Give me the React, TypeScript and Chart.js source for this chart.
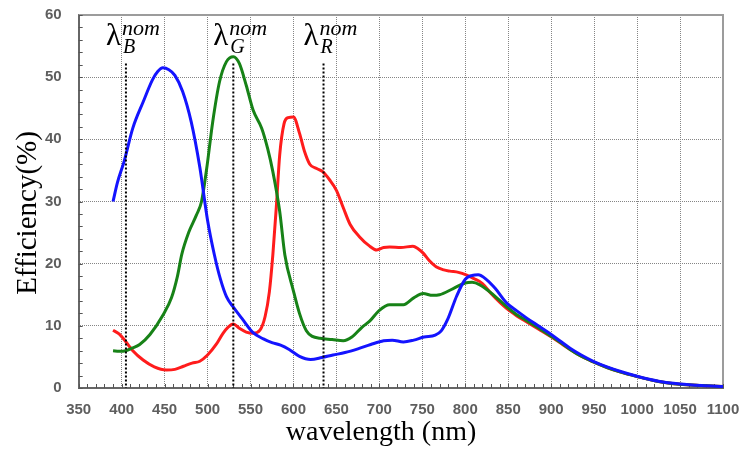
import React, { useEffect, useRef } from 'react';
import { Chart, registerables } from 'chart.js';

Chart.register(...registerables);

// ---- data ----
const blueNm = [390, 395, 403, 413, 425, 436, 442, 448, 455, 462, 471, 481, 491, 500, 508, 515, 522, 530, 540, 553, 565, 575, 585, 595, 607, 620, 633, 646, 660, 675, 690, 705, 715, 728, 740, 752, 765, 772, 780, 790, 800, 808, 815, 825, 835, 848, 860, 872, 885, 898, 910, 922, 935, 949, 965, 980, 1000, 1025, 1050, 1075, 1100];
const blueEff = [30.0, 33.0, 36.5, 41.8, 46.0, 49.6, 50.9, 51.5, 51.2, 50.3, 47.7, 42.8, 35.5, 27.0, 21.4, 17.5, 14.7, 13.0, 11.2, 8.9, 7.9, 7.3, 6.9, 6.2, 5.1, 4.6, 4.9, 5.3, 5.7, 6.3, 7.0, 7.6, 7.7, 7.4, 7.7, 8.2, 8.5, 9.2, 11.2, 14.8, 17.5, 18.1, 18.2, 17.4, 16.0, 13.7, 12.4, 11.2, 10.0, 8.8, 7.6, 6.4, 5.3, 4.3, 3.4, 2.7, 1.9, 1.1, 0.65, 0.4, 0.25];

const greenNm = [390, 397, 405, 412, 421, 433, 448, 458, 465, 470, 478, 487, 493, 499, 506, 514, 522, 530, 537, 545, 553, 563, 570, 576, 584, 590, 600, 607, 615, 622, 631, 645, 658, 668, 680, 689, 700, 712, 728, 740, 751, 762, 770, 786, 800, 808, 817, 830, 848, 860, 872, 885, 898, 910, 922, 935, 949, 965, 980, 1000, 1025, 1050, 1075, 1100];
const greenEff = [6.0, 5.9, 6.0, 6.4, 7.0, 8.6, 11.7, 14.5, 18.0, 21.5, 25.0, 27.8, 30.0, 35.3, 42.8, 49.3, 52.5, 53.3, 52.2, 48.7, 44.7, 41.8, 38.5, 34.8, 28.4, 21.4, 15.6, 12.0, 9.2, 8.3, 8.0, 7.8, 7.6, 8.2, 9.8, 10.8, 12.5, 13.4, 13.4, 14.5, 15.2, 14.9, 15.0, 16.0, 16.9, 17.0, 16.6, 15.3, 13.1, 11.8, 10.8, 9.7, 8.5, 7.4, 6.2, 5.1, 4.2, 3.3, 2.6, 1.85, 1.05, 0.6, 0.4, 0.25];

const redNm = [390, 397, 404, 413, 425, 438, 452, 462, 472, 482, 491, 500, 510, 518, 524, 530, 537, 545, 553, 561, 567, 572, 576, 580, 584, 589, 594, 600, 607, 613, 619, 627, 634, 642, 650, 658, 666, 677, 688, 697, 705, 712, 725, 739, 745, 751, 758, 766, 775, 782, 792, 801, 810, 820, 830, 848, 860, 872, 885, 898, 910, 922, 935, 949, 965, 980, 1000, 1025, 1050, 1075, 1100];
const redEff = [9.3, 8.7, 7.6, 6.0, 4.5, 3.4, 2.9, 3.0, 3.5, 4.0, 4.3, 5.3, 7.0, 8.8, 9.8, 10.3, 9.6, 9.0, 8.8, 9.3, 11.5, 15.5, 21.4, 29.0, 37.5, 42.5, 43.5, 43.6, 41.0, 38.0, 36.0, 35.3, 34.8, 33.5, 31.8, 29.0, 26.3, 24.3, 22.9, 22.2, 22.6, 22.7, 22.6, 22.8, 22.4, 21.7, 20.5, 19.5, 19.0, 18.8, 18.6, 18.2, 17.6, 16.8, 15.2, 12.8, 11.6, 10.6, 9.5, 8.4, 7.3, 6.2, 5.1, 4.2, 3.3, 2.6, 1.85, 1.05, 0.6, 0.4, 0.25];

const nominalNm = [405, 530, 635];
const nominalSub = ['B', 'G', 'R'];
const nominalTop = 52.2;

const xMin = 350;
const xMax = 1100;
const xStep = 50;
const xMinorStep = 10;
const yMin = 0;
const yMax = 60;
const yStep = 10;
const yMinorStep = 2;

const xTitle = 'wavelength (nm)';
const yTitle = 'Efficiency(%)';

const pts = (xs: number[], ys: number[]) => xs.map((x, i) => ({ x, y: ys[i] }));

const overlayPlugin = {
  id: 'overlay',
  beforeDatasetsDraw(chart: any) {
    const { ctx, chartArea: a, scales } = chart;
    const xs = scales.x;
    const ys = scales.y;
    ctx.save();
    // top/right frame
    ctx.strokeStyle = '#9c9c9c';
    ctx.lineWidth = 2;
    ctx.beginPath();
    ctx.moveTo(a.left, a.top);
    ctx.lineTo(a.right, a.top);
    ctx.lineTo(a.right, a.bottom);
    ctx.stroke();
    // minor ticks (inside)
    ctx.strokeStyle = '#555';
    ctx.lineWidth = 1;
    ctx.beginPath();
    for (let v = xMin; v <= xMax; v += xMinorStep) {
      const px = Math.round(xs.getPixelForValue(v)) + 0.5;
      ctx.moveTo(px, a.bottom);
      ctx.lineTo(px, a.bottom - 4);
    }
    for (let v = yMin; v <= yMax; v += yMinorStep) {
      const py = Math.round(ys.getPixelForValue(v)) + 0.5;
      ctx.moveTo(a.left, py);
      ctx.lineTo(a.left + 4, py);
    }
    ctx.stroke();
    ctx.restore();
  },
  afterDatasetsDraw(chart: any) {
    const { ctx, scales } = chart;
    const xs = scales.x;
    ctx.save();
    ctx.fillStyle = '#000';
    ctx.textAlign = 'left';
    ctx.textBaseline = 'alphabetic';
    nominalNm.forEach((nm, i) => {
      const L = xs.getPixelForValue(nm);
      ctx.font = '31px "Liberation Serif", serif';
      ctx.fillText('\u03BB', L - 20, 45);
      ctx.font = 'italic 22px "Liberation Serif", serif';
      ctx.fillText('nom', L - 4, 35);
      ctx.font = 'italic 20px "Liberation Serif", serif';
      ctx.fillText(nominalSub[i], L - 3, 53);
    });
    // axis titles
    ctx.font = '28px "Liberation Serif", serif';
    ctx.textAlign = 'center';
    ctx.fillText(xTitle, 381, 440);
    ctx.save();
    ctx.translate(36, 213);
    ctx.rotate(-Math.PI / 2);
    ctx.font = '29px "Liberation Serif", serif';
    ctx.fillText(yTitle, 0, 0);
    ctx.restore();
    ctx.restore();
  },
};

const tickFont = { family: '"Liberation Sans", Arial, sans-serif', size: 15, weight: 'bold' as const };

export default function App() {
  const ref = useRef<HTMLCanvasElement | null>(null);
  useEffect(() => {
    if (!ref.current) return;
    const dotted = nominalNm.map((nm) => ({
      data: [
        { x: nm, y: nominalTop },
        { x: nm, y: 0 },
      ],
      borderColor: '#000',
      borderWidth: 2,
      borderDash: [2, 2],
      pointRadius: 0,
      fill: false,
    }));
    const curve = (xsArr: number[], ysArr: number[], color: string) => ({
      data: pts(xsArr, ysArr),
      borderColor: color,
      borderWidth: 3,
      pointRadius: 0,
      fill: false,
      cubicInterpolationMode: 'monotone' as const,
    });
    const chart = new Chart(ref.current, {
      type: 'line',
      data: {
        datasets: [
          ...dotted,
          curve(blueNm, blueEff, '#1414ff'),
          curve(greenNm, greenEff, '#178217'),
          curve(redNm, redEff, '#ff1c1c'),
        ] as any,
      },
      options: {
        animation: false,
        responsive: false,
        layout: { padding: { left: 45, right: 18, top: 15, bottom: 31 } },
        plugins: { legend: { display: false }, tooltip: { enabled: false } },
        scales: {
          x: {
            type: 'linear',
            min: xMin,
            max: xMax,
            afterFit: (s: any) => {
              s.height -= s.options.ticks.padding;
              s.paddingLeft = 0;
              s.paddingRight = 0;
            },
            ticks: {
              stepSize: xStep,
              padding: 13,
              color: '#5e5e5e',
              font: tickFont,
              maxRotation: 0,
              autoSkip: false,
              callback: (v: any) => String(v),
            },
            grid: { color: '#858585', lineWidth: 1, drawTicks: false },
            border: { display: true, color: '#666', width: 2, dash: [1, 1] },
          },
          y: {
            type: 'linear',
            min: yMin,
            max: yMax,
            afterFit: (s: any) => {
              s.width -= s.options.ticks.padding;
              s.paddingTop = 0;
              s.paddingBottom = 0;
            },
            ticks: {
              stepSize: yStep,
              padding: 17,
              color: '#5e5e5e',
              font: tickFont,
              callback: (v: any) => String(v),
            },
            grid: { color: '#858585', lineWidth: 1, drawTicks: false },
            border: { display: true, color: '#666', width: 2, dash: [1, 1] },
          },
        },
      },
      plugins: [overlayPlugin],
    });
    return () => chart.destroy();
  }, []);
  return (
    <div style={{ position: 'fixed', left: 0, top: 0, width: 741, height: 450, background: '#fff' }}>
      <canvas ref={ref} width={741} height={450} style={{ display: 'block' }} />
    </div>
  );
}
